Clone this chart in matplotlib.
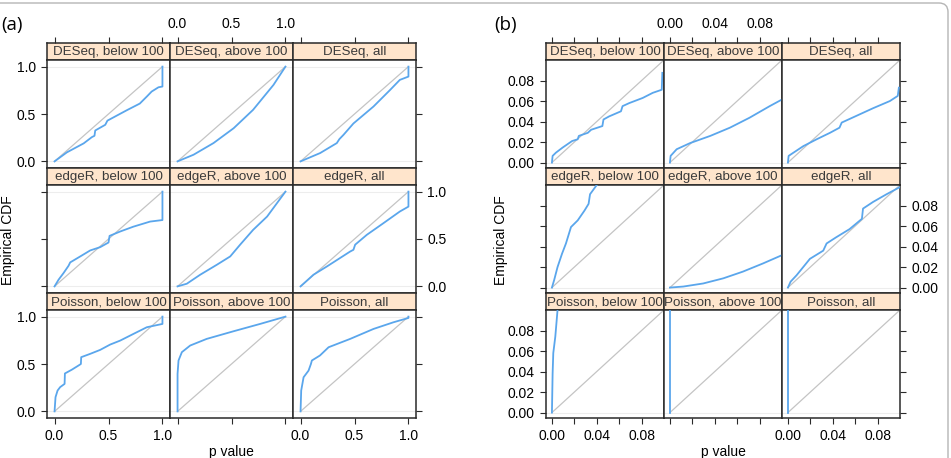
import numpy as np
import matplotlib.pyplot as plt
import matplotlib
from matplotlib.patches import FancyBboxPatch
from matplotlib.transforms import IdentityTransform

matplotlib.rcParams['font.family'] = ['Liberation Sans', 'DejaVu Sans']

W, H = 951, 458

methods = ['DESeq', 'edgeR', 'Poisson']
groups = ['below 100', 'above 100', 'all']

# (a) empirical CDF of p values, full range
a_deseq_below = [(0, 0), (0.114, 0.095), (0.27, 0.19), (0.346, 0.256), (0.37, 0.27), (0.377, 0.326),
                 (0.47, 0.386), (0.49, 0.43), (0.67, 0.54), (0.79, 0.61), (0.855, 0.684), (0.9, 0.737),
                 (0.963, 0.782), (1.0, 0.79), (1.0, 1.0)]
a_deseq_above = [(0, 0), (0.148, 0.07), (0.333, 0.193), (0.52, 0.35), (0.70, 0.544), (0.889, 0.807), (1, 1)]
a_deseq_all = [(0, 0), (0.182, 0.088), (0.336, 0.193), (0.36, 0.235), (0.398, 0.28), (0.49, 0.40),
               (0.676, 0.579), (0.83, 0.754), (0.92, 0.86), (1.0, 0.895), (1.0, 1.0)]

a_edger_below = [(0, 0), (0.037, 0.07), (0.083, 0.14), (0.13, 0.218), (0.145, 0.253), (0.238, 0.316),
                 (0.33, 0.379), (0.423, 0.414), (0.5, 0.463), (0.51, 0.533), (0.608, 0.579), (0.73, 0.63),
                 (0.886, 0.684), (1.0, 0.70), (1.0, 1.0)]
a_edger_above = [(0, 0), (0.086, 0.028), (0.21, 0.123), (0.364, 0.228), (0.488, 0.316), (0.58, 0.44),
                 (0.70, 0.596), (0.83, 0.737), (1, 1)]
a_edger_all = [(0, 0), (0.12, 0.123), (0.244, 0.21), (0.46, 0.368), (0.49, 0.386), (0.506, 0.44),
               (0.614, 0.544), (0.768, 0.667), (0.92, 0.79), (1.0, 0.842), (1.0, 1.0)]

a_pois_below = [(0, 0), (0.009, 0.15), (0.028, 0.22), (0.052, 0.256), (0.093, 0.29), (0.096, 0.40),
                (0.16, 0.44), (0.222, 0.484), (0.244, 0.50), (0.247, 0.572), (0.33, 0.607), (0.423, 0.649),
                (0.515, 0.705), (0.608, 0.747), (0.73, 0.817), (0.855, 0.888), (1.0, 0.923), (1.0, 1.0)]
a_pois_above = [(0, 0), (0, 0.396), (0.009, 0.537), (0.04, 0.625), (0.117, 0.695), (0.27, 0.765),
                (0.52, 0.846), (0.765, 0.923), (1, 1)]
a_pois_all = [(0, 0), (0.006, 0.22), (0.028, 0.36), (0.074, 0.43), (0.096, 0.50), (0.105, 0.537),
              (0.18, 0.59), (0.26, 0.677), (0.46, 0.765), (0.676, 0.87), (0.86, 0.94), (1, 0.986), (1, 1)]

# (b) same, zoomed into p < 0.1
b_deseq_below = [(0, 0), (0.0006, 0.0065), (0.0036, 0.0097), (0.0095, 0.0146), (0.018, 0.021), (0.023, 0.0227),
                 (0.024, 0.026), (0.032, 0.029), (0.035, 0.032), (0.045, 0.0356), (0.046, 0.042), (0.051, 0.045),
                 (0.0616, 0.050), (0.063, 0.055), (0.069, 0.058), (0.081, 0.063), (0.09, 0.068), (0.098, 0.071),
                 (0.0985, 0.0875)]
b_deseq_above = [(0, 0), (0.0006, 0.0065), (0.006, 0.013), (0.018, 0.019), (0.036, 0.026), (0.0535, 0.034),
                 (0.071, 0.0437), (0.089, 0.055), (0.1, 0.0615)]
b_deseq_all = [(0, 0), (0.0006, 0.0065), (0.005, 0.0097), (0.0137, 0.016), (0.0256, 0.0227), (0.0375, 0.029),
               (0.046, 0.034), (0.048, 0.039), (0.064, 0.047), (0.076, 0.053), (0.091, 0.06), (0.098, 0.065),
               (0.099, 0.073)]

b_edger_below = [(0, 0), (0.002, 0.0074), (0.005, 0.020), (0.009, 0.033), (0.0125, 0.043), (0.017, 0.059),
                 (0.023, 0.0655), (0.029, 0.075), (0.0327, 0.0816), (0.034, 0.091), (0.04, 0.1), (0.045, 0.104)]
b_edger_above = [(0, 0), (0.012, 0.001), (0.0297, 0.004), (0.0476, 0.009), (0.065, 0.0155), (0.083, 0.0235),
                 (0.1, 0.0316)]
b_edger_all = [(0, 0), (0.0024, 0.0058), (0.0077, 0.012), (0.0196, 0.028), (0.0315, 0.036), (0.0345, 0.043),
               (0.043, 0.049), (0.055, 0.057), (0.066, 0.067), (0.067, 0.077), (0.076, 0.0835), (0.088, 0.091),
               (0.1, 0.098)]

b_pois_below = [(0, 0), (0.0006, 0.038), (0.0012, 0.058), (0.003, 0.074), (0.005, 0.1), (0.006, 0.105)]
b_pois_above = [(0.0003, 0), (0.0003, 0.105)]
b_pois_all = [(0.0004, 0), (0.0004, 0.105)]

curves_a = [[a_deseq_below, a_deseq_above, a_deseq_all],
            [a_edger_below, a_edger_above, a_edger_all],
            [a_pois_below, a_pois_above, a_pois_all]]
curves_b = [[b_deseq_below, b_deseq_above, b_deseq_all],
            [b_edger_below, b_edger_above, b_edger_all],
            [b_pois_below, b_pois_above, b_pois_all]]

ticks_a = [0.0, 0.5, 1.0]
labels_a = ['0.0', '0.5', '1.0']
ticks_b = [0.0, 0.02, 0.04, 0.06, 0.08]
xlabels_b = ['0.00', '', '0.04', '', '0.08']
ylabels_b = ['0.00', '0.02', '0.04', '0.06', '0.08']

strip_color = '#FFE5CC'
line_blue = '#5AA6EC'
ref_gray = '#C4C4C4'
frame = '#2A2A2A'

row_tops = [43, 168, 293]
strip_h = 17
row_bottoms = [168, 293, 418]


def fig_box(x0, y0, x1, y1):
    return [x0 / W, 1 - y1 / H, (x1 - x0) / W, (y1 - y0) / H]


def style_spines(ax):
    for s in ax.spines.values():
        s.set_color(frame)
        s.set_linewidth(1.1)


def draw_block(fig, col_edges, curves, lim, xticks, xlabels, yticks, ylabels):
    for r in range(3):
        top = row_tops[r]
        for c in range(3):
            x0, x1 = col_edges[c], col_edges[c + 1]

            sax = fig.add_axes(fig_box(x0, top, x1, top + strip_h))
            sax.set_facecolor(strip_color)
            sax.set_xlim(lim)
            sax.set_yticks([])
            style_spines(sax)
            sax.text(0.5, 0.47, f'{methods[r]}, {groups[c]}', transform=sax.transAxes,
                     ha='center', va='center', fontsize=9.6, color='#3A3A3A', clip_on=False)
            if r == 0:
                sax.set_xticks(xticks)
                sax.set_xticklabels(xlabels)
                sax.tick_params(axis='x', bottom=False, labelbottom=False, top=True,
                                labeltop=(c == 1), direction='out', length=4.5, width=0.8,
                                color=frame, pad=4.5, labelsize=10)
            else:
                sax.set_xticks([])

            ax = fig.add_axes(fig_box(x0, top + strip_h, x1, row_bottoms[r]))
            ax.set_xlim(lim)
            ax.set_ylim(lim)
            style_spines(ax)
            ax.axhline(0, color='#EDEDED', lw=0.8, zorder=1)
            ax.axhline(1, color='#EDEDED', lw=0.8, zorder=1)
            ax.plot([0, 1], [0, 1], color=ref_gray, lw=0.9, zorder=2)
            pts = np.array(curves[r][c])
            ax.plot(pts[:, 0], pts[:, 1], color=line_blue, lw=1.3, zorder=3)

            ax.set_xticks(xticks)
            ax.set_xticklabels(xlabels)
            ax.set_yticks(yticks)
            ax.set_yticklabels(ylabels)
            ax.tick_params(axis='x', top=False, labeltop=False, bottom=(r == 2),
                           labelbottom=(r == 2 and c != 1))
            ax.tick_params(axis='y', left=(c == 0), labelleft=(c == 0 and r != 1),
                           right=(c == 2), labelright=(c == 2 and r == 1))
            ax.tick_params(direction='out', length=4.5, width=0.8, color=frame,
                           pad=3.5, labelsize=10)


fig = plt.figure(figsize=(W / 100, H / 100), dpi=100)

# light rounded frame around the figure
fig.patches.append(FancyBboxPatch((-20, -20), 968, H - 3 + 20,
                                  boxstyle='round,pad=0,rounding_size=9',
                                  transform=IdentityTransform(), facecolor='none',
                                  edgecolor='#B5B5B5', lw=1.0, figure=fig))

draw_block(fig, [47, 170, 293, 416], curves_a, (-0.07, 1.07), ticks_a, labels_a, ticks_a, labels_a)
draw_block(fig, [546, 664, 782, 900], curves_b, (-0.0053, 0.1), ticks_b, xlabels_b, ticks_b, ylabels_b)

for xl, xc in [(8, 231), (501, 723)]:
    fig.text(xl / W, 1 - 240 / H, 'Empirical CDF', rotation=90, ha='center', va='center', fontsize=10)
    fig.text(xc / W, 1 - 452 / H, 'p value', ha='center', va='center', fontsize=10)

fig.text(1 / W, 1 - 25 / H, '(a)', ha='left', va='center', fontsize=13.5, family=['Open Sans', 'DejaVu Sans'])
fig.text(494 / W, 1 - 25 / H, '(b)', ha='left', va='center', fontsize=13.5, family=['Open Sans', 'DejaVu Sans'])

fig.savefig('out.png', dpi=100)
